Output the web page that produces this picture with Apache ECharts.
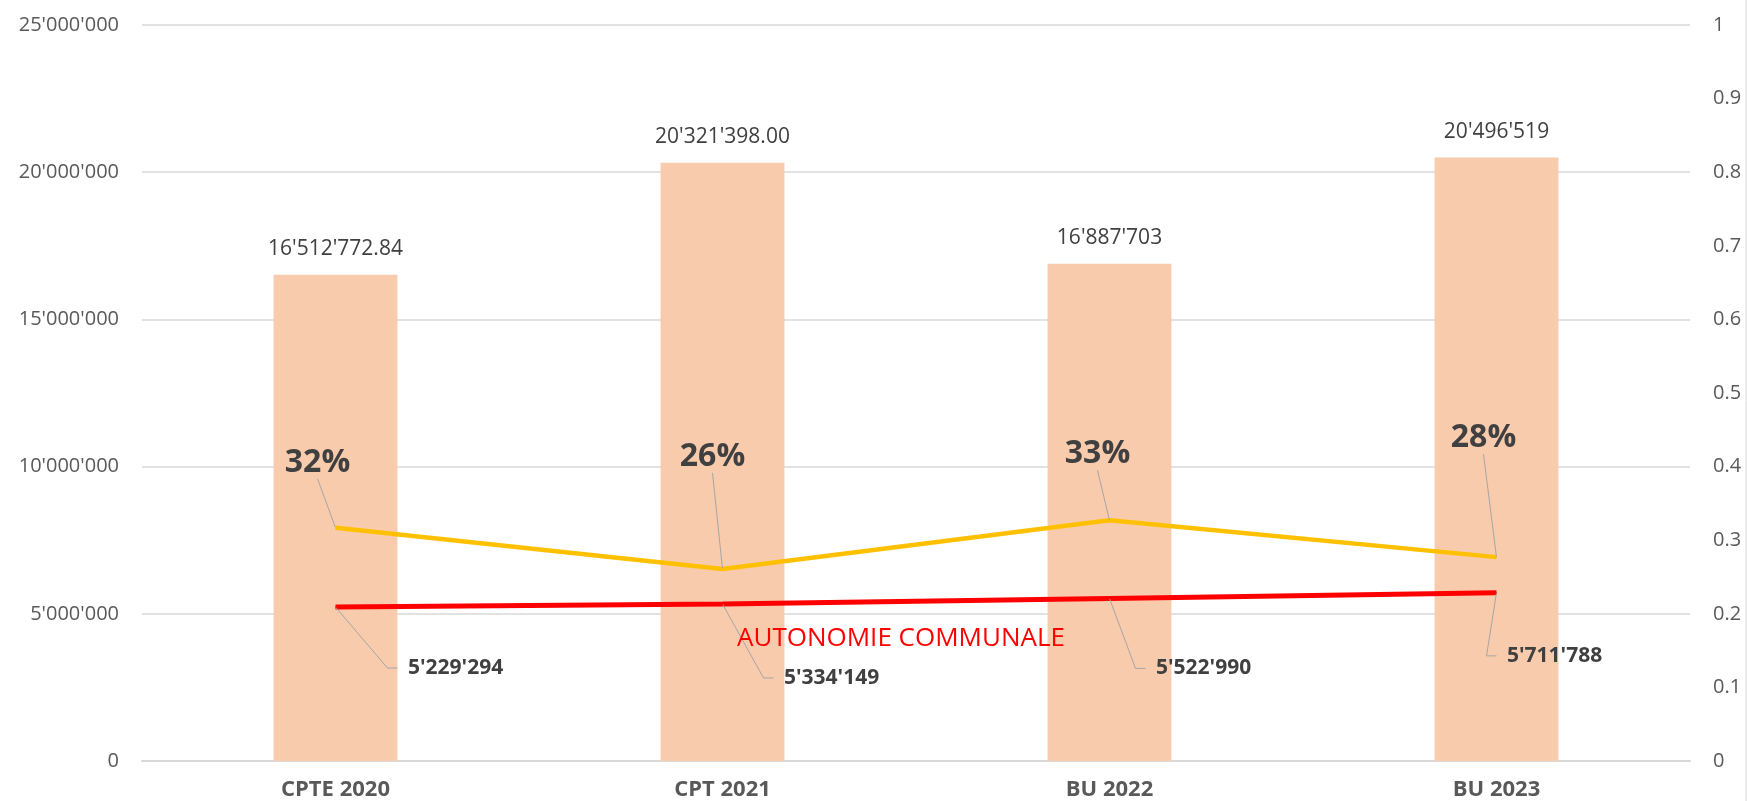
<!DOCTYPE html>
<html>
<head>
<meta charset="utf-8">
<script src="https://cdn.jsdelivr.net/npm/echarts@6/dist/echarts.min.js"></script>
<style>
  html, body { margin: 0; padding: 0; background: #fff; }
  #chart { width: 1747px; height: 801px; }
</style>
</head>
<body>
<div id="chart"></div>
<script>
// categories and values
var categories = ["CPTE 2020", "CPT 2021", "BU 2022", "BU 2023"];
var budgetTotal = [16512772.84, 20321398.00, 16887703, 20496519];
var budgetDecimals = [2, 2, 0, 0];
var autonomie = [5229294, 5334149, 5522990, 5711788];
var autonomieRatio = [0.317, 0.261, 0.327, 0.277];

// label placement (pixel offsets from the point)
var ratioLabelOffset = [[-18, -65], [-10, -112], [-12, -66], [-13, -119]];
var valueLabelOffset = [[62, 61], [51, 74], [36, 70], [0, 63]];

var FONT = "'Open Sans', 'DejaVu Sans', sans-serif";

function fmtNum(v, dec) {
  var s = Number(v).toFixed(dec || 0);
  var parts = s.split(".");
  parts[0] = parts[0].replace(/\B(?=(\d{3})+(?!\d))/g, "'");
  return parts.join(".");
}

var chart = echarts.init(document.getElementById("chart"));

chart.setOption({
  animation: false,
  textStyle: { fontFamily: FONT },
  grid: { left: 142, right: 57, top: 25, bottom: 40 },
  xAxis: {
    type: "category",
    data: categories,
    axisLine: { lineStyle: { color: "#D9D9D9", width: 2 } },
    axisTick: { show: false },
    axisLabel: { color: "#595959", fontWeight: "bold", fontSize: 22, margin: 18, fontFamily: FONT }
  },
  yAxis: [
    {
      type: "value",
      min: 0, max: 25000000, interval: 5000000,
      axisLine: { show: false },
      axisTick: { show: false },
      splitLine: { lineStyle: { color: "#D9D9D9", width: 1.5 } },
      axisLabel: { color: "#595959", fontSize: 20, margin: 23, fontFamily: FONT,
        formatter: function (v) { return fmtNum(v); } }
    },
    {
      type: "value",
      min: 0, max: 1, interval: 0.1,
      axisLine: { show: false },
      axisTick: { show: false },
      splitLine: { show: false },
      axisLabel: { color: "#595959", fontSize: 20, margin: 23, fontFamily: FONT,
        formatter: function (v) { return String(Math.round(v * 10) / 10); } }
    }
  ],
  series: [
    {
      type: "bar",
      data: budgetTotal,
      barWidth: "32%",
      itemStyle: { color: "#F8CBAD" },
      label: {
        show: true, position: "top", distance: 15,
        color: "#404040", fontSize: 21, fontFamily: FONT,
        formatter: function (p) { return fmtNum(p.value, budgetDecimals[p.dataIndex]); }
      }
    },
    {
      type: "line",
      yAxisIndex: 1,
      data: autonomieRatio,
      symbol: "circle", symbolSize: 1,
      itemStyle: { color: "#FFC000" },
      lineStyle: { color: "#FFC000", width: 4.5 },
      z: 3,
      label: {
        show: true, color: "#404040", fontSize: 32, fontWeight: "bold", fontFamily: FONT,
        padding: [0, 0, 8, 0],
        formatter: function (p) { return Math.round(p.value * 100) + "%"; }
      },
      labelLine: { show: true, length2: 0, lineStyle: { color: "#A6A6A6", width: 1 } },
      labelLayout: function (p) {
        var o = ratioLabelOffset[p.dataIndex];
        return {
          x: p.rect.x + p.rect.width / 2 + o[0],
          y: p.rect.y + p.rect.height / 2 + o[1],
          align: "center", verticalAlign: "middle"
        };
      }
    },
    {
      type: "line",
      data: autonomie,
      symbol: "circle", symbolSize: 1,
      itemStyle: { color: "#FF0000" },
      lineStyle: { color: "#FF0000", width: 5 },
      z: 4,
      label: {
        show: true, color: "#404040", fontSize: 21, fontWeight: "bold", fontFamily: FONT,
        formatter: function (p) { return "\u2002" + fmtNum(p.value); }
      },
      labelLine: { show: true, length2: 10, lineStyle: { color: "#A6A6A6", width: 1 } },
      labelLayout: function (p) {
        var o = valueLabelOffset[p.dataIndex];
        return {
          x: p.rect.x + p.rect.width / 2 + o[0],
          y: p.rect.y + p.rect.height / 2 + o[1],
          align: "left", verticalAlign: "middle"
        };
      }
    }
  ],
  graphic: [
    {
      type: "text", left: 737, top: 626, z: 100,
      style: { text: "AUTONOMIE COMMUNALE", fill: "#FF0000", font: "26px " + FONT }
    },
    {
      type: "line", shape: { x1: 1746, y1: 0, x2: 1746, y2: 801 },
      style: { stroke: "#D9D9D9", lineWidth: 1 }
    }
  ]
});
</script>
</body>
</html>
